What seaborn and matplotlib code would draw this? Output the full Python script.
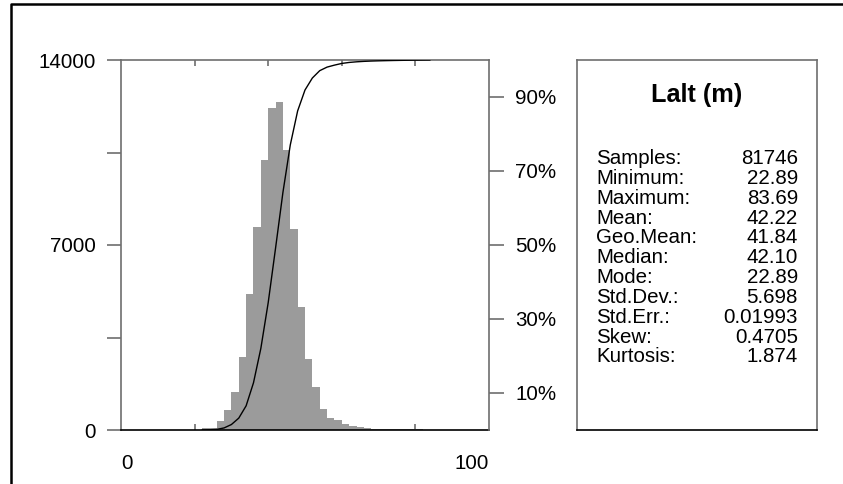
import numpy as np
import pandas as pd
import matplotlib
matplotlib.use("Agg")
import matplotlib.pyplot as plt
from matplotlib.lines import Line2D
import seaborn as sns

sns.set_style("white")
plt.rcParams['font.family'] = ['Liberation Sans', 'DejaVu Sans']
plt.rcParams['text.color'] = 'black'
plt.rcParams['xtick.labelcolor'] = 'black'
plt.rcParams['ytick.labelcolor'] = 'black'

# histogram bins (2 m wide) and counts
bin_edges = np.arange(22, 86, 2)
counts = [60, 70, 330, 760, 1427, 2750, 5134, 7670, 10216, 12171, 12423,
          10594, 7594, 4666, 2674, 1639, 795, 440, 380, 220, 140, 100, 70,
          50, 40, 35, 30, 25, 20, 20, 15]

stat_title = "Lalt (m)"
stat_labels = ["Samples:", "Minimum:", "Maximum:", "Mean:", "Geo.Mean:", "Median:",
               "Mode:", "Std.Dev.:", "Std.Err.:", "Skew:", "Kurtosis:"]
stat_values = ["81746", "22.89", "83.69", "42.22", "41.84", "42.10",
               "22.89", "5.698", "0.01993", "0.4705", "1.874"]

W, H = 843, 484
grey = "#6e6e6e"
fs = 14.8

df = pd.DataFrame({"mid": bin_edges[:-1] + 1.0, "count": counts})

fig = plt.figure(figsize=(W / 100, H / 100), dpi=100)
ax = fig.add_axes([121 / W, (H - 430) / H, (489 - 121) / W, (430 - 60) / H])

sns.histplot(data=df, x="mid", weights="count", bins=list(bin_edges), color="#9b9b9b",
             alpha=1, edgecolor="none", linewidth=0, ax=ax)
ax.set_xlim(0, 100)
ax.set_ylim(0, 14000)
ax.set_xlabel("")
ax.set_ylabel("")

# cumulative curve on the right (percent) axis
cdf = np.concatenate([[0], np.cumsum(counts) / np.sum(counts) * 100])
ax2 = ax.twinx()
sns.lineplot(x=bin_edges, y=cdf, color="black", linewidth=1, ax=ax2)
ax2.set_ylim(0, 100)
ax2.set_xlim(0, 100)
ax2.set_ylabel("")

# axes styling
for a in (ax, ax2):
    for s in a.spines.values():
        s.set_color(grey)
        s.set_linewidth(1.2)
    a.spines['bottom'].set_color("black")
ax.spines['right'].set_visible(False)
for s in ('left', 'top', 'bottom'):
    ax2.spines[s].set_visible(False)

ax.set_xticks([0, 100])
ax.set_xticklabels(["0", "100"])
ax.set_xticks([20, 40, 60, 80], minor=True)
ax.tick_params(axis='x', which='major', direction='out', length=9.5, width=1.2,
               color=grey, labelsize=fs, labelcolor='black', pad=8, top=False)
ax.tick_params(axis='x', which='minor', direction='in', length=4.5, width=1.2,
               color=grey, top=True, bottom=True)
lbls = ax.get_xticklabels()
lbls[0].set_ha('left')
lbls[1].set_ha('right')

ax.set_yticks([0, 3500, 7000, 10500, 14000])
ax.set_yticklabels(["0", "", "7000", "", "14000"])
ax.tick_params(axis='y', which='major', direction='out', length=10, width=1.2,
               color=grey, labelsize=fs, labelcolor='black', pad=8)

ax2.set_yticks([10, 30, 50, 70, 90])
ax2.set_yticklabels([f"{v}%" for v in [10, 30, 50, 70, 90]])
ax2.tick_params(axis='y', which='major', direction='out', length=11, width=1.2,
                color=grey, labelsize=fs, labelcolor='black', pad=8)
ax2.tick_params(axis='x', which='both', bottom=False, top=False, labelbottom=False)

# statistics box
box = fig.add_axes([577 / W, (H - 430) / H, (817 - 577) / W, (430 - 60) / H])
box.set_xticks([])
box.set_yticks([])
for s in box.spines.values():
    s.set_color(grey)
    s.set_linewidth(1.2)
box.spines['bottom'].set_color("black")
bw, bh = 817 - 577, 430 - 60
box.text((697 - 577) / bw, (430 - 95) / bh, stat_title, fontsize=18.2, color='black',
         fontweight='bold', ha='center', va='center', transform=box.transAxes)
for i, (lab, val) in enumerate(zip(stat_labels, stat_values)):
    yy = (430 - (158.5 + i * 19.84)) / bh
    box.text((596 - 577) / bw, yy, lab, fontsize=fs, color='black', ha='left',
             va='center', transform=box.transAxes)
    box.text((798 - 577) / bw, yy, val, fontsize=fs, color='black', ha='right',
             va='center', transform=box.transAxes)

# outer frame (left and top edges visible)
fig.add_artist(Line2D([10.5 / W, 10.5 / W, 1], [0, 1 - 4 / H, 1 - 4 / H],
                      color="black", linewidth=1.8, transform=fig.transFigure))

fig.savefig("out.png", dpi=100)
